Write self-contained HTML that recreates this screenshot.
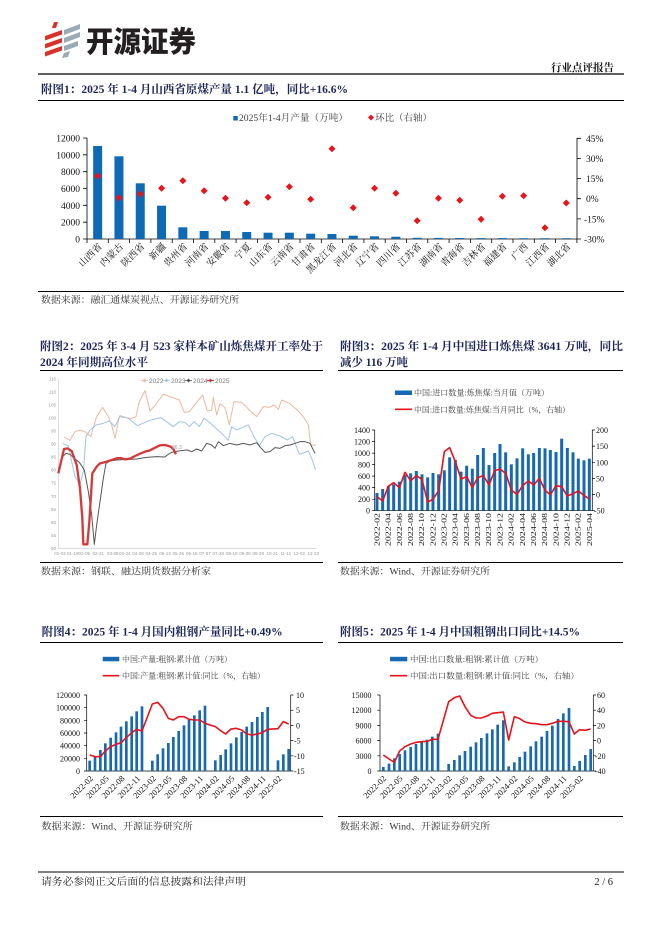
<!DOCTYPE html>
<html><head><meta charset="utf-8"><style>
html,body{margin:0;padding:0;background:#fff;}
body{width:662px;height:936px;overflow:hidden;position:relative;}
svg{position:absolute;left:0;top:0;}
.t{font-family:"Liberation Serif","Noto Serif CJK SC",serif;font-weight:bold;fill:#1b2559;font-size:11.5px;}
.src{font-family:"Liberation Serif","Noto Serif CJK SC",serif;font-size:9.5px;fill:#333;}
.ax{font-family:"Liberation Serif",serif;font-size:8px;fill:#111;}
.ax1{font-family:"Liberation Serif",serif;font-size:9.5px;fill:#111;}
.cat{font-family:"Liberation Serif","Noto Serif CJK SC",serif;font-size:9.5px;fill:#111;}
.lg{font-family:"Liberation Serif","Noto Serif CJK SC",serif;font-size:8px;fill:#404040;}
.g2{font-family:"Liberation Sans",sans-serif;font-size:4.5px;fill:#999;}
</style></head><body>
<svg width="662" height="936" viewBox="0 0 662 936" xmlns="http://www.w3.org/2000/svg">
<!-- Logo -->
<g>
<polygon points="54,22 58,22 56,28 52,28" fill="#d9312b"/>
<polygon points="45,36 62,30 62,34.5 45,40.5" fill="#d9312b"/>
<polygon points="45,44 62,38 62,42.5 45,48.5" fill="#d9312b"/>
<polygon points="45,52 62,46 62,50.5 45,56.5" fill="#d9312b"/>
<polygon points="64,30 80,24 80,29 64,35" fill="#9aabb8"/>
<polygon points="64,38 80,32 80,37 64,43" fill="#9aabb8"/>
<polygon points="64,46 78,41 78,46 64,51" fill="#9aabb8"/>
<polygon points="64,53 70,51 68,57 62,58" fill="#9aabb8"/>
</g>
<text x="86" y="52" style="font-family:'Noto Sans CJK SC',sans-serif;font-weight:900;font-size:29px;fill:#231f20;" textLength="110" lengthAdjust="spacingAndGlyphs">开源证券</text>
<text x="614" y="71" text-anchor="end" style="font-family:'Liberation Serif','Noto Serif CJK SC',serif;font-weight:bold;font-size:10.5px;fill:#111;">行业点评报告</text>
<line x1="38" y1="74" x2="624" y2="74" stroke="#000" stroke-width="1.3"/>

<!-- Chart 1 -->
<text class="t" x="41" y="93" textLength="307" lengthAdjust="spacingAndGlyphs">附图1：2025 年 1-4 月山西省原煤产量 1.1 亿吨，同比+16.6%</text>
<line x1="38" y1="100.5" x2="624" y2="100.5" stroke="#000" stroke-width="1"/>
<rect x="233.3" y="116" width="4.5" height="4.5" fill="#0e6ab5"/>
<text class="lg" x="239" y="121" style="font-size:9.5px" textLength="109" lengthAdjust="spacingAndGlyphs">2025年1-4月产量（万吨）</text>
<path d="M371,114.5 l3,3 l-3,3 l-3,-3z" fill="#e8141b"/>
<text class="lg" x="375" y="121" style="font-size:9.5px">环比（右轴）</text>
<g stroke="#000" stroke-width="0.8" fill="none">
<line x1="87" y1="138" x2="87" y2="239"/>
<line x1="577" y1="138" x2="577" y2="239"/>
<line x1="87" y1="239" x2="577" y2="239"/>
<path d="M83,138h4M83,154.8h4M83,171.7h4M83,188.5h4M83,205.3h4M83,222.2h4M83,239h4"/>
<path d="M577,138.3h4M577,158.4h4M577,178.6h4M577,198.7h4M577,218.9h4M577,239h4"/>
<path d="M87,239v4M108.3,239v4M129.6,239v4M150.9,239v4M172.2,239v4M193.5,239v4M214.8,239v4M236.1,239v4M257.4,239v4M278.7,239v4M300,239v4M321.3,239v4M342.6,239v4M363.9,239v4M385.2,239v4M406.5,239v4M427.8,239v4M449.1,239v4M470.4,239v4M491.7,239v4M513,239v4M534.3,239v4M555.6,239v4M576.9,239v4"/>
</g>
<g class="ax1" text-anchor="end">
<text x="80" y="141.5">12000</text><text x="80" y="158.3">10000</text><text x="80" y="175.2">8000</text><text x="80" y="192">6000</text><text x="80" y="208.8">4000</text><text x="80" y="225.7">2000</text><text x="80" y="242.5">0</text>
</g>
<g class="ax1">
<text x="586" y="141.8">45%</text><text x="586" y="161.9">30%</text><text x="586" y="182.1">15%</text><text x="586" y="202.2">0%</text><text x="584" y="222.4">-15%</text><text x="584" y="242.5">-30%</text>
</g>
<g fill="#0e6ab5">
<rect x="93.15" y="146" width="9" height="93"/>
<rect x="114.45" y="156.3" width="9" height="82.7"/>
<rect x="135.75" y="183.3" width="9" height="55.7"/>
<rect x="157.05" y="205.7" width="9" height="33.3"/>
<rect x="178.35" y="227.3" width="9" height="11.7"/>
<rect x="199.65" y="231" width="9" height="8"/>
<rect x="220.95" y="231" width="9" height="8"/>
<rect x="242.25" y="232" width="9" height="7"/>
<rect x="263.55" y="232.7" width="9" height="6.3"/>
<rect x="284.85" y="232.7" width="9" height="6.3"/>
<rect x="306.15" y="233.7" width="9" height="5.3"/>
<rect x="327.45" y="234" width="9" height="5"/>
<rect x="348.75" y="235.7" width="9" height="3.3"/>
<rect x="370.05" y="236.3" width="9" height="2.7"/>
<rect x="391.35" y="236.7" width="9" height="2.3"/>
<rect x="412.65" y="237.8" width="9" height="1.2"/>
<rect x="433.95" y="237.9" width="9" height="1.1"/>
<rect x="455.25" y="238" width="9" height="1"/>
<rect x="476.55" y="238.1" width="9" height="0.9"/>
<rect x="497.85" y="238.1" width="9" height="0.9"/>
<rect x="519.15" y="238.2" width="9" height="0.8"/>
<rect x="540.45" y="238.2" width="9" height="0.8"/>
<rect x="561.75" y="238.2" width="9" height="0.8"/>
</g>
<g fill="#e8141b">
<path d="M97.65,172.5l3.5,3.5l-3.5,3.5l-3.5,-3.5z"/>
<path d="M118.95,194.2l3.5,3.5l-3.5,3.5l-3.5,-3.5z"/>
<path d="M140.25,190.5l3.5,3.5l-3.5,3.5l-3.5,-3.5z"/>
<path d="M161.55,184.8l3.5,3.5l-3.5,3.5l-3.5,-3.5z"/>
<path d="M182.85,177.2l3.5,3.5l-3.5,3.5l-3.5,-3.5z"/>
<path d="M204.15,187.2l3.5,3.5l-3.5,3.5l-3.5,-3.5z"/>
<path d="M225.45,194.8l3.5,3.5l-3.5,3.5l-3.5,-3.5z"/>
<path d="M246.75,199.2l3.5,3.5l-3.5,3.5l-3.5,-3.5z"/>
<path d="M268.05,193.8l3.5,3.5l-3.5,3.5l-3.5,-3.5z"/>
<path d="M289.35,183.2l3.5,3.5l-3.5,3.5l-3.5,-3.5z"/>
<path d="M310.65,195.8l3.5,3.5l-3.5,3.5l-3.5,-3.5z"/>
<path d="M331.95,145.2l3.5,3.5l-3.5,3.5l-3.5,-3.5z"/>
<path d="M353.25,204.2l3.5,3.5l-3.5,3.5l-3.5,-3.5z"/>
<path d="M374.55,184.8l3.5,3.5l-3.5,3.5l-3.5,-3.5z"/>
<path d="M395.85,189.8l3.5,3.5l-3.5,3.5l-3.5,-3.5z"/>
<path d="M417.15,217.2l3.5,3.5l-3.5,3.5l-3.5,-3.5z"/>
<path d="M438.45,194.8l3.5,3.5l-3.5,3.5l-3.5,-3.5z"/>
<path d="M459.75,196.8l3.5,3.5l-3.5,3.5l-3.5,-3.5z"/>
<path d="M481.05,215.8l3.5,3.5l-3.5,3.5l-3.5,-3.5z"/>
<path d="M502.35,192.8l3.5,3.5l-3.5,3.5l-3.5,-3.5z"/>
<path d="M523.65,192.2l3.5,3.5l-3.5,3.5l-3.5,-3.5z"/>
<path d="M544.95,224.2l3.5,3.5l-3.5,3.5l-3.5,-3.5z"/>
<path d="M566.25,199.5l3.5,3.5l-3.5,3.5l-3.5,-3.5z"/>
</g>
<g class="cat" text-anchor="end">
<text x="102.6" y="247" transform="rotate(-45 102.6 247)">山西省</text>
<text x="123.9" y="247" transform="rotate(-45 123.9 247)">内蒙古</text>
<text x="145.2" y="247" transform="rotate(-45 145.2 247)">陕西省</text>
<text x="166.5" y="247" transform="rotate(-45 166.5 247)">新疆</text>
<text x="187.8" y="247" transform="rotate(-45 187.8 247)">贵州省</text>
<text x="209.1" y="247" transform="rotate(-45 209.1 247)">河南省</text>
<text x="230.4" y="247" transform="rotate(-45 230.4 247)">安徽省</text>
<text x="251.7" y="247" transform="rotate(-45 251.7 247)">宁夏</text>
<text x="273" y="247" transform="rotate(-45 273 247)">山东省</text>
<text x="294.3" y="247" transform="rotate(-45 294.3 247)">云南省</text>
<text x="315.6" y="247" transform="rotate(-45 315.6 247)">甘肃省</text>
<text x="336.9" y="247" transform="rotate(-45 336.9 247)">黑龙江省</text>
<text x="358.2" y="247" transform="rotate(-45 358.2 247)">河北省</text>
<text x="379.5" y="247" transform="rotate(-45 379.5 247)">辽宁省</text>
<text x="400.8" y="247" transform="rotate(-45 400.8 247)">四川省</text>
<text x="422.1" y="247" transform="rotate(-45 422.1 247)">江苏省</text>
<text x="443.4" y="247" transform="rotate(-45 443.4 247)">湖南省</text>
<text x="464.7" y="247" transform="rotate(-45 464.7 247)">青海省</text>
<text x="486" y="247" transform="rotate(-45 486 247)">吉林省</text>
<text x="507.3" y="247" transform="rotate(-45 507.3 247)">福建省</text>
<text x="528.6" y="247" transform="rotate(-45 528.6 247)">广西</text>
<text x="549.9" y="247" transform="rotate(-45 549.9 247)">江西省</text>
<text x="571.2" y="247" transform="rotate(-45 571.2 247)">湖北省</text>
</g>
<line x1="38" y1="291.5" x2="624" y2="291.5" stroke="#000" stroke-width="1"/>
<text class="src" x="41" y="303" textLength="198" lengthAdjust="spacingAndGlyphs">数据来源：融汇通煤炭视点、开源证券研究所</text>

<!-- Chart 2 -->
<text class="t" x="40" y="350" textLength="283" lengthAdjust="spacingAndGlyphs">附图2：2025 年 3-4 月 523 家样本矿山炼焦煤开工率处于</text>
<text class="t" x="40" y="366" textLength="108" lengthAdjust="spacingAndGlyphs">2024 年同期高位水平</text>
<line x1="40" y1="370.5" x2="323" y2="370.5" stroke="#000" stroke-width="1"/>
<g stroke="#c8c8c8" stroke-width="0.6"><line x1="58.3" y1="379" x2="58.3" y2="548.4"/><line x1="58.3" y1="548.4" x2="316.7" y2="548.4"/></g>
<g class="g2" text-anchor="end">
<text x="56" y="380.5">115</text><text x="56" y="393.5">110</text><text x="56" y="406.6">105</text><text x="56" y="419.6">100</text><text x="56" y="432.6">95</text><text x="56" y="445.7">90</text><text x="56" y="458.7">85</text><text x="56" y="471.7">80</text><text x="56" y="484.7">75</text><text x="56" y="497.8">70</text><text x="56" y="510.8">65</text><text x="56" y="523.8">60</text><text x="56" y="536.9">55</text><text x="56" y="549.9">50</text>
</g>
<g class="g2" text-anchor="middle">
<text x="60" y="555">01-02</text><text x="72.7" y="555">01-19</text><text x="84.3" y="555">02-05</text><text x="98.3" y="555">02-21</text><text x="112.7" y="555">03-08</text><text x="124.7" y="555">03-24</text><text x="138" y="555">04-08</text><text x="151.3" y="555">04-25</text><text x="165" y="555">05-13</text><text x="178.3" y="555">05-26</text><text x="191.7" y="555">06-16</text><text x="205" y="555">07-07</text><text x="218.3" y="555">07-28</text><text x="231.7" y="555">08-18</text><text x="245" y="555">09-08</text><text x="258.3" y="555">09-29</text><text x="272.3" y="555">10-21</text><text x="285.7" y="555">11-11</text><text x="299.3" y="555">12-02</text><text x="313.3" y="555">12-23</text>
</g>
<g style="font-family:'Liberation Sans',sans-serif;font-size:6.5px;fill:#777;">
<line x1="141" y1="380.5" x2="148" y2="380.5" stroke="#efb79c" stroke-width="0.8"/><path d="M144.5,378.5l2,2l-2,2l-2,-2z" fill="#efb79c"/><text x="149" y="383">2022</text>
<line x1="163" y1="380.5" x2="170" y2="380.5" stroke="#9fc4e8" stroke-width="0.8"/><path d="M166.5,378.5l2,2l-2,2l-2,-2z" fill="#9fc4e8"/><text x="171" y="383">2023</text>
<line x1="185" y1="380.5" x2="192" y2="380.5" stroke="#555" stroke-width="0.8"/><path d="M188.5,378.5l2,2l-2,2l-2,-2z" fill="#555"/><text x="193" y="383">2024</text>
<line x1="207" y1="380.5" x2="214" y2="380.5" stroke="#d43a3a" stroke-width="1.2"/><path d="M210.5,378.5l2,2l-2,2l-2,-2z" fill="#d43a3a"/><text x="215" y="383">2025</text>
</g>
<g transform="translate(50,375) scale(0.33333)" fill="none" stroke-linejoin="round">
<polyline stroke="#efb79c" stroke-width="3" points="42,186 60,196 75,170 90,165 108,172 122,185 140,125 158,97 175,125 185,150 195,190 208,125 225,128 245,130 258,125 268,80 285,47 300,108 318,88 340,57 360,65 388,75 403,112 418,110 440,82 458,60 472,108 485,105 490,67 500,120 510,86 525,98 538,150 552,80 575,82 598,105 620,125 640,95 658,97 672,90 685,103 695,75 718,85 742,105 760,125 775,150 782,210 798,210"/>
<polyline stroke="#9fc4e8" stroke-width="3" points="38,205 55,212 65,260 75,305 90,328 100,290 108,185 120,165 138,150 160,145 178,138 195,155 210,122 235,130 262,152 290,140 310,133 333,128 350,140 370,155 388,140 405,142 418,155 432,140 448,155 462,130 480,143 498,160 515,175 535,196 545,155 560,165 578,157 595,150 612,185 628,212 645,185 665,175 690,183 712,195 728,185 748,238 765,232 775,228 785,250 797,285"/>
<polyline stroke="#555" stroke-width="3" points="25,290 38,245 48,235 60,238 72,250 88,262 103,285 115,350 125,420 133,508 140,450 150,380 160,310 168,265 180,258 200,255 220,254 240,253 260,252 290,247 320,245 345,246 352,240 365,232 385,228 400,226 412,225 425,230 440,222 455,228 470,205 485,210 495,220 505,200 520,212 540,205 560,210 580,205 600,210 620,203 632,218 645,232 660,230 675,218 690,220 705,212 720,210 735,205 750,200 765,200 780,205 795,235"/>
<polyline stroke="#d43a3a" stroke-width="7" points="25,295 42,222 52,220 65,228 80,270 90,340 97,430 100,508 112,508 118,440 127,295 140,275 150,265 170,260 185,255 200,250 212,249 225,253 240,251 255,243 270,236 285,230 300,226 315,218 330,211 345,210 360,214 370,222 378,238"/>
</g>
<text x="172" y="449" style="font-family:'Liberation Sans',sans-serif;font-size:5px;fill:#999;">86.3</text>
<line x1="40" y1="562.5" x2="323" y2="562.5" stroke="#000" stroke-width="1"/>
<text class="src" x="41" y="574.5" textLength="170" lengthAdjust="spacingAndGlyphs">数据来源：钢联、融达期货数据分析家</text>

<!-- Chart 3 -->
<text class="t" x="340" y="350" textLength="283" lengthAdjust="spacingAndGlyphs">附图3：2025 年 1-4 月中国进口炼焦煤 3641 万吨，同比</text>
<text class="t" x="340" y="366" textLength="68" lengthAdjust="spacingAndGlyphs">减少 116 万吨</text>
<line x1="338" y1="370.5" x2="623" y2="370.5" stroke="#000" stroke-width="1"/>
<rect x="395" y="390.5" width="17" height="4.5" fill="#1769b3"/>
<text class="lg" x="414" y="395.5" textLength="135" lengthAdjust="spacingAndGlyphs">中国:进口数量:炼焦煤:当月值（万吨）</text>
<line x1="395" y1="409.3" x2="412" y2="409.3" stroke="#e8121b" stroke-width="1.6"/>
<text class="lg" x="414" y="412.3" textLength="156" lengthAdjust="spacingAndGlyphs">中国:进口数量:炼焦煤:当月同比（%，右轴）</text>
<g stroke="#000" stroke-width="0.7" fill="none">
<line x1="374.7" y1="430" x2="374.7" y2="510.7"/><line x1="592.3" y1="430" x2="592.3" y2="510.7"/><line x1="374.7" y1="510.7" x2="592.3" y2="510.7"/>
<path d="M372,430h2.7M372,441.5h2.7M372,453.1h2.7M372,464.6h2.7M372,476.1h2.7M372,487.6h2.7M372,499.2h2.7M372,510.7h2.7"/>
<path d="M592.3,430h2.7M592.3,446.1h2.7M592.3,462.3h2.7M592.3,478.4h2.7M592.3,494.6h2.7M592.3,510.7h2.7"/>
</g>
<g class="ax" text-anchor="end">
<text x="370" y="433">1400</text><text x="370" y="444.5">1200</text><text x="370" y="456.1">1000</text><text x="370" y="467.6">800</text><text x="370" y="479.1">600</text><text x="370" y="490.6">400</text><text x="370" y="502.2">200</text><text x="370" y="513.7">0</text>
</g>
<g class="ax">
<text x="596" y="433">200</text><text x="596" y="449.1">150</text><text x="596" y="465.3">100</text><text x="596" y="481.4">50</text><text x="596" y="497.6">0</text><text x="594" y="513.7">-50</text>
</g>
<g transform="translate(360,425) scale(0.33333)">
<g fill="#1769b3">
<rect x="46.5" y="204" width="9" height="53"/><rect x="63.5" y="192" width="9" height="65"/><rect x="80.5" y="183" width="9" height="74"/><rect x="96.5" y="178" width="9" height="79"/><rect x="113.5" y="170" width="9" height="87"/><rect x="130.5" y="150" width="9" height="107"/><rect x="147.5" y="145" width="9" height="112"/><rect x="164.5" y="138" width="9" height="119"/><rect x="181.5" y="148" width="9" height="109"/><rect x="198.5" y="157" width="9" height="100"/><rect x="214.5" y="144" width="9" height="113"/><rect x="231.5" y="148" width="9" height="109"/><rect x="248.5" y="136" width="9" height="121"/><rect x="264.5" y="97" width="9" height="160"/><rect x="281.5" y="105" width="9" height="152"/><rect x="298.5" y="140" width="9" height="117"/><rect x="315.5" y="122" width="9" height="135"/><rect x="332.5" y="131" width="9" height="126"/><rect x="348.5" y="90" width="9" height="167"/><rect x="365.5" y="69" width="9" height="188"/><rect x="382.5" y="120" width="9" height="137"/><rect x="399.5" y="84" width="9" height="173"/><rect x="415.5" y="57" width="9" height="200"/><rect x="432.5" y="82" width="9" height="175"/><rect x="449.5" y="118" width="9" height="139"/><rect x="466.5" y="100" width="9" height="157"/><rect x="483.5" y="70" width="9" height="187"/><rect x="500.5" y="88" width="9" height="169"/><rect x="516.5" y="84" width="9" height="173"/><rect x="533.5" y="69" width="9" height="188"/><rect x="550.5" y="70" width="9" height="187"/><rect x="566.5" y="75" width="9" height="182"/><rect x="583.5" y="81" width="9" height="176"/><rect x="600.5" y="41" width="9" height="216"/><rect x="617.5" y="69" width="9" height="188"/><rect x="634.5" y="82" width="9" height="175"/><rect x="650.5" y="101" width="9" height="156"/><rect x="667.5" y="106" width="9" height="151"/><rect x="683.5" y="101" width="9" height="156"/>
</g>
<polyline fill="none" stroke="#e8121b" stroke-width="4.8" stroke-linejoin="round" points="51,215 68,228 85,184 101,173 118,188 135,142 152,167 169,152 186,163 203,232 219,222 236,198 253,80 269,68 286,110 303,162 320,155 337,188 353,158 370,152 387,180 404,137 420,132 437,145 454,195 471,208 488,182 505,168 521,180 538,160 555,196 571,209 588,182 605,185 622,213 639,206 655,198 672,211 688,222"/>
</g>
<g class="ax" style="font-size:7.5px" text-anchor="end">
<text x="379.5" y="513" transform="rotate(-90 379.5 513)" textLength="33" lengthAdjust="spacingAndGlyphs">2022-02</text>
<text x="390.7" y="513" transform="rotate(-90 390.7 513)" textLength="33" lengthAdjust="spacingAndGlyphs">2022-04</text>
<text x="401.8" y="513" transform="rotate(-90 401.8 513)" textLength="33" lengthAdjust="spacingAndGlyphs">2022-06</text>
<text x="413" y="513" transform="rotate(-90 413 513)" textLength="33" lengthAdjust="spacingAndGlyphs">2022-08</text>
<text x="424.2" y="513" transform="rotate(-90 424.2 513)" textLength="33" lengthAdjust="spacingAndGlyphs">2022-10</text>
<text x="435.4" y="513" transform="rotate(-90 435.4 513)" textLength="33" lengthAdjust="spacingAndGlyphs">2022-12</text>
<text x="446.5" y="513" transform="rotate(-90 446.5 513)" textLength="33" lengthAdjust="spacingAndGlyphs">2023-02</text>
<text x="457.7" y="513" transform="rotate(-90 457.7 513)" textLength="33" lengthAdjust="spacingAndGlyphs">2023-04</text>
<text x="468.9" y="513" transform="rotate(-90 468.9 513)" textLength="33" lengthAdjust="spacingAndGlyphs">2023-06</text>
<text x="480.1" y="513" transform="rotate(-90 480.1 513)" textLength="33" lengthAdjust="spacingAndGlyphs">2023-08</text>
<text x="491.2" y="513" transform="rotate(-90 491.2 513)" textLength="33" lengthAdjust="spacingAndGlyphs">2023-10</text>
<text x="502.4" y="513" transform="rotate(-90 502.4 513)" textLength="33" lengthAdjust="spacingAndGlyphs">2023-12</text>
<text x="513.6" y="513" transform="rotate(-90 513.6 513)" textLength="33" lengthAdjust="spacingAndGlyphs">2024-02</text>
<text x="524.8" y="513" transform="rotate(-90 524.8 513)" textLength="33" lengthAdjust="spacingAndGlyphs">2024-04</text>
<text x="535.9" y="513" transform="rotate(-90 535.9 513)" textLength="33" lengthAdjust="spacingAndGlyphs">2024-06</text>
<text x="547.1" y="513" transform="rotate(-90 547.1 513)" textLength="33" lengthAdjust="spacingAndGlyphs">2024-08</text>
<text x="558.3" y="513" transform="rotate(-90 558.3 513)" textLength="33" lengthAdjust="spacingAndGlyphs">2024-10</text>
<text x="569.5" y="513" transform="rotate(-90 569.5 513)" textLength="33" lengthAdjust="spacingAndGlyphs">2024-12</text>
<text x="580.6" y="513" transform="rotate(-90 580.6 513)" textLength="33" lengthAdjust="spacingAndGlyphs">2025-02</text>
<text x="591.8" y="513" transform="rotate(-90 591.8 513)" textLength="33" lengthAdjust="spacingAndGlyphs">2025-04</text>
</g>
<line x1="338" y1="562.5" x2="623" y2="562.5" stroke="#000" stroke-width="1"/>
<text class="src" x="340" y="574.5" textLength="150" lengthAdjust="spacingAndGlyphs">数据来源：Wind、开源证券研究所</text>

<!-- Chart 4 -->
<text class="t" x="41.7" y="635.7" textLength="241" lengthAdjust="spacingAndGlyphs">附图4：2025 年 1-4 月国内粗钢产量同比+0.49%</text>
<line x1="40" y1="642.5" x2="323" y2="642.5" stroke="#000" stroke-width="1"/>
<rect x="102.7" y="656.8" width="16.6" height="4.5" fill="#1769b3"/>
<text class="lg" x="122" y="662" textLength="110" lengthAdjust="spacingAndGlyphs">中国:产量:粗钢:累计值（万吨）</text>
<line x1="102.7" y1="675.7" x2="119.3" y2="675.7" stroke="#e8121b" stroke-width="1.6"/>
<text class="lg" x="122" y="678.7" textLength="143" lengthAdjust="spacingAndGlyphs">中国:产量:粗钢:累计值:同比（%，右轴）</text>
<g stroke="#000" stroke-width="0.7" fill="none">
<line x1="86.7" y1="695" x2="86.7" y2="771"/><line x1="290.7" y1="695" x2="290.7" y2="771"/><line x1="86.7" y1="771" x2="290.7" y2="771"/>
<path d="M84,695h2.7M84,707.7h2.7M84,720.3h2.7M84,733h2.7M84,745.7h2.7M84,758.3h2.7M84,771h2.7"/>
<path d="M290.7,695h2.7M290.7,710.2h2.7M290.7,725.4h2.7M290.7,740.6h2.7M290.7,755.8h2.7M290.7,771h2.7"/>
</g>
<g class="ax" text-anchor="end">
<text x="80" y="698">120000</text><text x="80" y="710.7">100000</text><text x="80" y="723.3">80000</text><text x="80" y="736">60000</text><text x="80" y="748.7">40000</text><text x="80" y="761.3">20000</text><text x="80" y="774">0</text>
</g>
<g class="ax">
<text x="296" y="698">10</text><text x="296" y="713.2">5</text><text x="296" y="728.4">0</text><text x="294" y="743.6">-5</text><text x="294" y="758.8">-10</text><text x="294" y="774">-15</text>
</g>
<g transform="translate(80,690) scale(0.33333)">
<g fill="#1769b3">
<rect x="25" y="212" width="8" height="31"/><rect x="41" y="201" width="8" height="42"/><rect x="57" y="180" width="8" height="63"/><rect x="72" y="160" width="8" height="83"/><rect x="88" y="143" width="8" height="100"/><rect x="104" y="127" width="8" height="116"/><rect x="119" y="110" width="8" height="133"/><rect x="135" y="94" width="8" height="149"/><rect x="151" y="79" width="8" height="164"/><rect x="166" y="64" width="8" height="179"/><rect x="182" y="49" width="8" height="194"/>
<rect x="213" y="212" width="8" height="31"/><rect x="229" y="193" width="8" height="50"/><rect x="245" y="175" width="8" height="68"/><rect x="261" y="159" width="8" height="84"/><rect x="276" y="141" width="8" height="102"/><rect x="292" y="123" width="8" height="120"/><rect x="308" y="106" width="8" height="137"/><rect x="323" y="89" width="8" height="154"/><rect x="339" y="76" width="8" height="167"/><rect x="355" y="61" width="8" height="182"/><rect x="371" y="47" width="8" height="196"/>
<rect x="402" y="211" width="8" height="32"/><rect x="418" y="195" width="8" height="48"/><rect x="433" y="178" width="8" height="65"/><rect x="449" y="160" width="8" height="83"/><rect x="465" y="142" width="8" height="101"/><rect x="481" y="126" width="8" height="117"/><rect x="496" y="110" width="8" height="133"/><rect x="512" y="96" width="8" height="147"/><rect x="528" y="81" width="8" height="162"/><rect x="543" y="66" width="8" height="177"/><rect x="559" y="51" width="8" height="192"/>
<rect x="590" y="211" width="8" height="32"/><rect x="606" y="193" width="8" height="50"/><rect x="622" y="177" width="8" height="66"/>
</g>
<polyline fill="none" stroke="#e8121b" stroke-width="4.8" stroke-linejoin="round" points="29,195 45,200 61,200 76,183 92,170 108,163 123,158 139,143 155,128 170,118 186,123 217,42 233,37 249,55 265,85 280,90 296,80 312,80 327,88 343,90 359,90 375,100 406,110 422,122 437,132 453,117 469,115 485,120 500,132 516,135 532,132 547,128 563,118 594,116 610,95 626,102"/>
</g>
<g class="ax" style="font-size:8.5px" text-anchor="end">
<text x="93.7" y="779" transform="rotate(-45 93.7 779)">2022-02</text>
<text x="109.4" y="779" transform="rotate(-45 109.4 779)">2022-05</text>
<text x="125.1" y="779" transform="rotate(-45 125.1 779)">2022-08</text>
<text x="140.8" y="779" transform="rotate(-45 140.8 779)">2022-11</text>
<text x="156.5" y="779" transform="rotate(-45 156.5 779)">2023-02</text>
<text x="172.2" y="779" transform="rotate(-45 172.2 779)">2023-05</text>
<text x="187.9" y="779" transform="rotate(-45 187.9 779)">2023-08</text>
<text x="203.6" y="779" transform="rotate(-45 203.6 779)">2023-11</text>
<text x="219.3" y="779" transform="rotate(-45 219.3 779)">2024-02</text>
<text x="235" y="779" transform="rotate(-45 235 779)">2024-05</text>
<text x="250.7" y="779" transform="rotate(-45 250.7 779)">2024-08</text>
<text x="266.4" y="779" transform="rotate(-45 266.4 779)">2024-11</text>
<text x="282.1" y="779" transform="rotate(-45 282.1 779)">2025-02</text>
</g>
<line x1="40" y1="816.5" x2="323" y2="816.5" stroke="#000" stroke-width="1"/>
<text class="src" x="41.7" y="829.5" textLength="151" lengthAdjust="spacingAndGlyphs">数据来源：Wind、开源证券研究所</text>

<!-- Chart 5 -->
<text class="t" x="340" y="635.7" textLength="240" lengthAdjust="spacingAndGlyphs">附图5：2025 年 1-4 月中国粗钢出口同比+14.5%</text>
<line x1="338" y1="642.5" x2="623" y2="642.5" stroke="#000" stroke-width="1"/>
<rect x="390" y="656.8" width="17.3" height="4.5" fill="#1769b3"/>
<text class="lg" x="410" y="662" textLength="133" lengthAdjust="spacingAndGlyphs">中国:出口数量:粗钢:累计值（万吨）</text>
<line x1="390" y1="675.7" x2="407.3" y2="675.7" stroke="#e8121b" stroke-width="1.6"/>
<text class="lg" x="410" y="678.7" textLength="169" lengthAdjust="spacingAndGlyphs">中国:出口数量:粗钢:累计值:同比（%，右轴）</text>
<g stroke="#000" stroke-width="0.7" fill="none">
<line x1="380" y1="695" x2="380" y2="771"/><line x1="593.3" y1="695" x2="593.3" y2="771"/><line x1="380" y1="771" x2="593.3" y2="771"/>
<path d="M377.3,695h2.7M377.3,710.2h2.7M377.3,725.4h2.7M377.3,740.6h2.7M377.3,755.8h2.7M377.3,771h2.7"/>
<path d="M593.3,695h2.7M593.3,710.2h2.7M593.3,725.4h2.7M593.3,740.6h2.7M593.3,755.8h2.7M593.3,771h2.7"/>
</g>
<g class="ax" text-anchor="end">
<text x="371.5" y="698">15000</text><text x="371.5" y="713.2">12000</text><text x="371.5" y="728.4">9000</text><text x="371.5" y="743.6">6000</text><text x="371.5" y="758.8">3000</text><text x="371.5" y="774">0</text>
</g>
<g class="ax">
<text x="597" y="698">60</text><text x="597" y="713.2">40</text><text x="597" y="728.4">20</text><text x="597" y="743.6">0</text><text x="595" y="758.8">-20</text><text x="595" y="774">-40</text>
</g>
<g transform="translate(375,690) scale(0.33333)">
<g fill="#1769b3">
<rect x="21" y="231" width="8" height="12"/><rect x="38" y="221" width="8" height="22"/><rect x="54" y="205" width="8" height="38"/><rect x="70" y="192" width="8" height="51"/><rect x="86" y="181" width="8" height="62"/><rect x="103" y="171" width="8" height="72"/><rect x="119" y="162" width="8" height="81"/><rect x="136" y="155" width="8" height="88"/><rect x="152" y="149" width="8" height="94"/><rect x="168" y="140" width="8" height="103"/><rect x="185" y="131" width="8" height="112"/>
<rect x="217" y="222" width="8" height="21"/><rect x="234" y="210" width="8" height="33"/><rect x="250" y="196" width="8" height="47"/><rect x="266" y="183" width="8" height="60"/><rect x="283" y="170" width="8" height="73"/><rect x="299" y="157" width="8" height="86"/><rect x="315" y="144" width="8" height="99"/><rect x="332" y="130" width="8" height="113"/><rect x="348" y="118" width="8" height="125"/><rect x="364" y="104" width="8" height="139"/><rect x="381" y="91" width="8" height="152"/>
<rect x="397" y="229" width="8" height="14"/><rect x="414" y="217" width="8" height="26"/><rect x="430" y="201" width="8" height="42"/><rect x="446" y="185" width="8" height="58"/><rect x="463" y="169" width="8" height="74"/><rect x="479" y="154" width="8" height="89"/><rect x="496" y="140" width="8" height="103"/><rect x="512" y="123" width="8" height="120"/><rect x="528" y="107" width="8" height="136"/><rect x="545" y="87" width="8" height="156"/><rect x="561" y="70" width="8" height="173"/><rect x="578" y="54" width="8" height="189"/>
<rect x="594" y="228" width="8" height="15"/><rect x="610" y="213" width="8" height="30"/><rect x="627" y="195" width="8" height="48"/><rect x="643" y="177" width="8" height="66"/>
</g>
<polyline fill="none" stroke="#e8121b" stroke-width="4.8" stroke-linejoin="round" points="25,195 42,207 58,217 74,183 90,170 107,162 123,157 140,155 156,154 172,148 189,148 221,35 238,23 254,18 270,50 287,76 303,84 319,84 336,78 352,70 368,68 385,66 401,150 418,80 434,86 450,96 467,100 483,101 500,104 516,104 532,100 549,94 565,94 582,95 598,132 614,119 631,121 647,117"/>
</g>
<g class="ax" style="font-size:8.5px" text-anchor="end">
<text x="386.8" y="779" transform="rotate(-45 386.8 779)">2022-02</text>
<text x="403.2" y="779" transform="rotate(-45 403.2 779)">2022-05</text>
<text x="419.6" y="779" transform="rotate(-45 419.6 779)">2022-08</text>
<text x="436" y="779" transform="rotate(-45 436 779)">2022-11</text>
<text x="452.4" y="779" transform="rotate(-45 452.4 779)">2023-02</text>
<text x="468.8" y="779" transform="rotate(-45 468.8 779)">2023-05</text>
<text x="485.2" y="779" transform="rotate(-45 485.2 779)">2023-08</text>
<text x="501.6" y="779" transform="rotate(-45 501.6 779)">2023-11</text>
<text x="518" y="779" transform="rotate(-45 518 779)">2024-02</text>
<text x="534.4" y="779" transform="rotate(-45 534.4 779)">2024-05</text>
<text x="550.8" y="779" transform="rotate(-45 550.8 779)">2024-08</text>
<text x="567.2" y="779" transform="rotate(-45 567.2 779)">2024-11</text>
<text x="583.6" y="779" transform="rotate(-45 583.6 779)">2025-02</text>
</g>
<line x1="338" y1="816.5" x2="623" y2="816.5" stroke="#000" stroke-width="1"/>
<text class="src" x="340" y="829.5" textLength="150" lengthAdjust="spacingAndGlyphs">数据来源：Wind、开源证券研究所</text>

<!-- Footer -->
<line x1="38" y1="872" x2="624" y2="872" stroke="#000" stroke-width="1"/>
<text class="src" x="41" y="885" style="font-size:10px;fill:#222" textLength="205" lengthAdjust="spacingAndGlyphs">请务必参阅正文后面的信息披露和法律声明</text>
<text x="613" y="885" text-anchor="end" style="font-family:'Liberation Serif',serif;font-size:10.5px;fill:#222;">2 / 6</text>
</svg>
</body></html>
